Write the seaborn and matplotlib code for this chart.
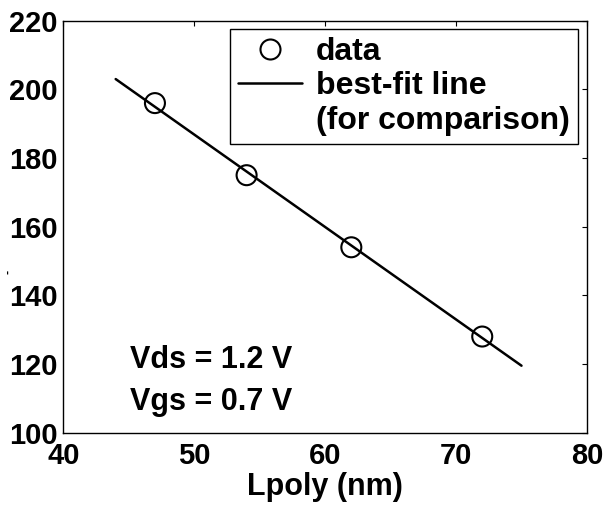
import matplotlib
matplotlib.use("Agg")
import matplotlib.pyplot as plt
from matplotlib.lines import Line2D
import seaborn as sns
import pandas as pd

# ---- data ----
lpoly_nm = [47, 54, 62, 72]
values = [196, 175, 154, 128]
fit_x = [44, 75]
fit_y = [203, 119.5]
x_ticks = [40, 50, 60, 70, 80]
y_ticks = [100, 120, 140, 160, 180, 200, 220]
legend_labels = ["data", "best-fit line", "(for comparison)"]
annotations = ["Vds = 1.2 V", "Vgs = 0.7 V"]
x_label = "Lpoly (nm)"

sns.set_theme(style="white")
plt.rcParams["font.family"] = ["Liberation Sans", "DejaVu Sans"]
plt.rcParams["font.weight"] = "bold"
plt.rcParams["text.color"] = "black"
plt.rcParams["axes.labelcolor"] = "black"
plt.rcParams["xtick.color"] = "black"
plt.rcParams["ytick.color"] = "black"

df = pd.DataFrame({"x": lpoly_nm, "y": values})
fit_df = pd.DataFrame({"x": fit_x, "y": fit_y})

fig = plt.figure(figsize=(6.07, 5.09), dpi=100)
ax = fig.add_axes([0.1043, 0.150, 0.8627, 0.8093])

sns.lineplot(data=fit_df, x="x", y="y", ax=ax, color="black", linewidth=1.8, zorder=2)
sns.scatterplot(data=df, x="x", y="y", ax=ax, marker="o", s=207,
                facecolor="none", edgecolor="black", linewidth=1.5, zorder=3)

ax.set_xlim(x_ticks[0], x_ticks[-1])
ax.set_ylim(y_ticks[0], y_ticks[-1])
ax.set_xticks(x_ticks)
ax.set_yticks(y_ticks)
ax.set_xticklabels([str(t) for t in x_ticks])
ax.set_yticklabels([str(t) for t in y_ticks])
ax.tick_params(axis="both", which="major", direction="in", length=3.5, width=0.8,
               top=True, right=True, labelsize=21, colors="black")
ax.tick_params(axis="x", pad=7)
ax.tick_params(axis="y", pad=4)
for lab in ax.get_xticklabels() + ax.get_yticklabels():
    lab.set_fontweight("bold")
    lab.set_color("black")
for sp in ax.spines.values():
    sp.set_visible(True)
    sp.set_color("black")
    sp.set_linewidth(1.0)

ax.set_xlabel(x_label, fontsize=22, fontweight="bold", labelpad=1, color="black")
ax.set_ylabel("-", fontsize=9, fontweight="bold", color="black")
ax.yaxis.set_label_coords(-0.094, 0.391)

ax.text(45.1, 118.8, annotations[0], fontsize=22, fontweight="bold", ha="left",
        va="baseline", color="black")
ax.text(45.1, 106.7, annotations[1], fontsize=22, fontweight="bold", ha="left",
        va="baseline", color="black")

handles = [
    Line2D([], [], marker="o", linestyle="none", markersize=14.4, markerfacecolor="none",
           markeredgecolor="black", markeredgewidth=1.5),
    Line2D([], [], color="black", linewidth=1.8),
    Line2D([], [], linestyle="none", marker=None),
]
leg = ax.legend(handles=handles, labels=legend_labels, loc="upper right",
                bbox_to_anchor=(0.9828, 0.9806), borderaxespad=0, frameon=True,
                fancybox=False, edgecolor="black", framealpha=1,
                prop={"size": 23, "weight": "bold"}, borderpad=0.25,
                labelspacing=0.15, handlelength=2.0, handletextpad=0.43)
leg.get_frame().set_linewidth(1.0)
for t in leg.get_texts():
    t.set_color("black")

fig.savefig("out.png", dpi=100)
